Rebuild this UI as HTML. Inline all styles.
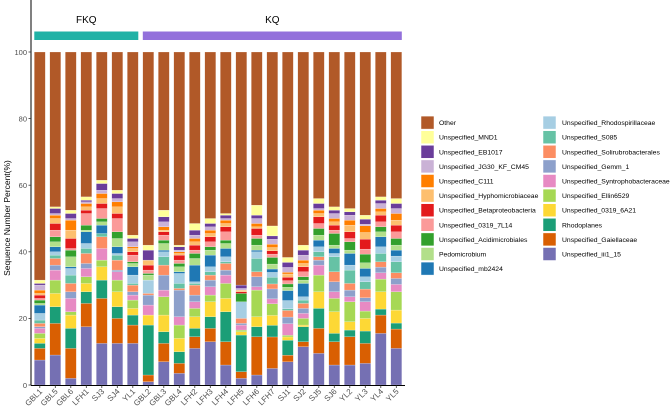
<!DOCTYPE html>
<html><head><meta charset="utf-8"><style>
html,body{margin:0;padding:0;background:#fff;}
svg text{font-family:"Liberation Sans",sans-serif;}
</style></head><body>
<svg id="chart" width="671" height="412" viewBox="0 0 671 412" xmlns="http://www.w3.org/2000/svg">
<g id="bars"></g>
<g id="axes"></g>
<g id="legend"></g>
</svg>
<script>
const samples = ["GBL1","GBL5","GBL6","LFH1","SJ3","SJ4","YL1","GBL2","GBL3","GBL4","LFH2","LFH3","LFH4","LFH5","LFH6","LFH7","SJ1","SJ2","SJ5","SJ6","YL2","YL3","YL4","YL5"];
// stacking order bottom -> top
const taxa = ["Unspecified_iii1_15","Unspecified_Gaiellaceae","Rhodoplanes","Unspecified_0319_6A21","Unspecified_Ellin6529","Unspecified_Syntrophobacteraceae","Unspecified_Gemm_1","Unspecified_Solirubrobacterales","Unspecified_S085","Unspecified_Rhodospirillaceae","Unspecified_mb2424","Pedomicrobium","Unspecified_Acidimicrobiales","Unspecified_0319_7L14","Unspecified_Betaproteobacteria","Unspecified_Hyphomicrobiaceae","Unspecified_C111","Unspecified_JG30_KF_CM45","Unspecified_EB1017","Unspecified_MND1","Other"];
const colors = ["#7570b3","#d95f02","#1b9e77","#fdd835","#a6d854","#e78ac3","#8da0cb","#fc8d62","#66c2a5","#a6cee3","#1f78b4","#b2df8a","#33a02c","#fb9a99","#e31a1c","#fdbf6f","#ff7f00","#cab2d6","#6a3d9a","#ffff99","#b15928"];
const vGBL1 = [7.5,3.5,1.5,1.5,1.5,1.5,0.5,1,1,2,2.5,0.5,1,0.5,1,0.5,1,1.5,0.5,1,68.5];
const vGBL5 = [9,9.5,5,4,4,3,1.5,2,1,1,1.5,1.5,1.5,2,2,1.5,1,0.5,1.5,0.5,46.5];
const vGBL6 = [2,9,6,4,1,4,2,2.5,2.5,2,0.5,3,2,0.5,3,2.5,3,0.5,1.5,1,47.5];
const vLFH1 = [17.5,7,3.5,2.5,2,2.5,1.5,3,1.5,1.5,3.5,0.5,1.5,3.5,1,1,1,0.5,0.5,1,43.5];
const vSJ3 = [12.5,13.5,5.5,4,2,3.5,0,3.5,1,0,2.5,1,1,3,1.5,1.5,1.5,1,2,1,38.5];
const vSJ4 = [12.5,7.5,3.5,4.5,3.5,2.5,0.5,3,1.5,0.5,2,2.5,2,4,1.5,2,1.5,1,1.5,1,41.5];
const vYL1 = [12.5,5.5,3,2,2.5,1.5,1,2,0.5,2.5,2.5,1,0.5,2,1,1,0.5,1.5,1,1,55];
const vGBL2 = [1,2,15,3,0,3,3,0.5,0,4,0,1.5,0.5,1,1.5,1.5,0,0,3,1.5,58];
const vGBL3 = [7,5.5,3.5,5,5.5,2,4.5,3,2.5,1.5,0.5,2,1,1.5,1,0.5,1,1.5,1.5,2,47.5];
const vGBL4 = [3.5,3,3.5,4,4,2.5,8,0.5,1.5,3,0.5,1.5,1,1,1.5,0.5,0.5,0.5,1,0.5,58];
const vLFH2 = [11,3.5,2.5,3.5,2.5,2,2,3,0.5,0.5,5,2,1.5,1,1.5,1,1,1,1.5,2,51.5];
const vLFH3 = [13,4,3.5,4.5,2,2.5,2,1.5,1,1.5,3.5,1.5,1,1.5,1.5,1,1,1,1,1.5,50];
const vLFH4 = [6,7,9,4,4.5,2.5,1.5,2,0.5,1.5,2.5,1.5,1,2.5,1.5,1,1,0.5,1,0.5,48.5];
const vLFH5 = [2,2,11,1,0.5,1.5,0.5,1.5,0,5,0,0,2.5,0,0.5,0.5,0,0.5,1,0,70];
const vLFH6 = [3,11.5,3,3,8,1,3,1.5,4,2,0.5,1.5,2,1,2,0.5,1,1.5,1,3,46];
const vLFH7 = [5,9.5,3.5,3,3.5,1.5,3,1.5,2,1.5,1,1.5,2,1,1,1,1,1.5,1,3,52.5];
const vSJ1 = [7,2,4.5,1,0.5,3.5,2,2,0.5,2.5,3,1,1,1,1,1,0.5,1.5,1.5,1.5,62];
const vSJ2 = [11.5,1.5,4.5,0.5,2,1.5,1.5,1.5,1,1,4,1,1,1.5,1.5,1,1,1.5,1.5,1.5,58];
const vSJ5 = [9.5,7.5,6,5,5,3,1.5,1,1.5,1.5,2,1.5,2,1.5,2,1,1,0.5,1.5,1.5,44];
const vSJ6 = [6,7,2.5,6.5,4,2,3,3,4.5,1,1.5,1,3.5,1,1.5,1,1,1.5,1,1,46.5];
const vYL2 = [6,8.5,2,2.5,6,1.5,2,2,4,1.5,3.5,1,2.5,1,2,2,1.5,1.5,1,1,47];
const vYL3 = [6.5,6,3.7,3.8,2.2,2.8,1.2,2.6,2.2,1.5,2.5,1.7,2.6,1.5,3,2,2,0.5,1.5,1.2,49];
const vYL4 = [15.5,5.5,1.8,5.2,3.8,1.9,1.7,1.6,2.5,2,3,1.5,1.5,1.5,2,1,1,1.5,1,1,43.5];
const vYL5 = [11,5.8,1.8,3.9,5.5,2.2,1.8,1.7,3.3,1.7,1.8,1.5,2,2,2,1.5,2,1.5,1.5,1.5,44];
const sampleValues = [vGBL1,vGBL5,vGBL6,vLFH1,vSJ3,vSJ4,vYL1,vGBL2,vGBL3,vGBL4,vLFH2,vLFH3,vLFH4,vLFH5,vLFH6,vLFH7,vSJ1,vSJ2,vSJ5,vSJ6,vYL2,vYL3,vYL4,vYL5];
const yTicks = [0,20,40,60,80,100];
const groups = ["FKQ","KQ"];
const groupSizes = [7,17];
const groupColors = ["#20b2a6","#9370db"];
const legendCol1 = ["Other","Unspecified_MND1","Unspecified_EB1017","Unspecified_JG30_KF_CM45","Unspecified_C111","Unspecified_Hyphomicrobiaceae","Unspecified_Betaproteobacteria","Unspecified_0319_7L14","Unspecified_Acidimicrobiales","Pedomicrobium","Unspecified_mb2424"];
const legendCol2 = ["Unspecified_Rhodospirillaceae","Unspecified_S085","Unspecified_Solirubrobacterales","Unspecified_Gemm_1","Unspecified_Syntrophobacteraceae","Unspecified_Ellin6529","Unspecified_0319_6A21","Rhodoplanes","Unspecified_Gaiellaceae","Unspecified_iii1_15"];

const NS="http://www.w3.org/2000/svg";
function mk(tag,attrs,parent){const e=document.createElementNS(NS,tag);for(const k in attrs)e.setAttribute(k,attrs[k]);parent.appendChild(e);return e;}
const y0=385, y100=52;
const yScale=v=>y0-(y0-y100)*v/100;
const x0=39.8, step=15.5, bw=11;
const xScale=i=>x0+step*i;
const barsG=document.getElementById('bars'), axesG=document.getElementById('axes'), legG=document.getElementById('legend');

sampleValues.forEach((vals,i)=>{
  const total=vals.reduce((a,b)=>a+b,0);
  let cum=0;
  vals.forEach((raw,k)=>{
    const v=raw*100/total;
    if(v<=0){return;}
    const r=mk('rect',{x:xScale(i)-bw/2,y:yScale(cum+v),width:bw,height:yScale(cum)-yScale(cum+v),fill:colors[k],stroke:"#ffffff","stroke-width":0.35,"stroke-opacity":0.6},barsG);
    
    
    cum+=v;
  });
});

const ya=mk('line',{x1:31,y1:0,x2:31,y2:385.5,stroke:"#000","stroke-width":1},axesG);


const xa=mk('line',{x1:31,y1:385.5,x2:405,y2:385.5,stroke:"#000","stroke-width":1},axesG);


yTicks.forEach(t=>{
  const tk=mk('line',{x1:28.5,x2:31,y1:yScale(t),y2:yScale(t),stroke:"#333","stroke-width":0.8},axesG);
  
  
  const tx=mk('text',{x:27,y:yScale(t)+2.8,"font-size":7.5,fill:"#4d4d4d","text-anchor":"end"},axesG);
  tx.textContent=t;
  
  
});
samples.forEach((s,i)=>{
  const tk=mk('line',{x1:xScale(i),x2:xScale(i),y1:385.5,y2:388,stroke:"#333","stroke-width":0.8},axesG);
  
  
  const tx=mk('text',{x:xScale(i)+3,y:392,"font-size":8,fill:"#4d4d4d","text-anchor":"end",transform:`rotate(-45 ${xScale(i)+3} 392)`},axesG);
  tx.textContent=s;
  
  
});
const yt=mk('text',{x:10,y:218,"font-size":8.5,fill:"#000","text-anchor":"middle",transform:"rotate(-90 10 218)"},axesG);
yt.textContent="Sequence Number Percent(%)";



let start=0;
groups.forEach((g,gi)=>{
  const xl=xScale(start)-bw/2, xr=xScale(start+groupSizes[gi]-1)+bw/2;
  const r=mk('rect',{x:xl,y:31.5,width:xr-xl,height:8.5,fill:groupColors[gi]},axesG);
  
  
  const t=mk('text',{x:(xl+xr)/2,y:23,"font-size":10,fill:"#000","text-anchor":"middle"},axesG);
  t.textContent=g;
  
  
  start+=groupSizes[gi];
});

const rowY0=122.6, rowStep=14.6;
function legendCol(list,kx,tx){
  list.forEach((name,j)=>{
    const k=taxa.indexOf(name);
    const cy=rowY0+rowStep*j;
    const g=mk('g',{},legG);
    
    
    mk('rect',{x:kx,y:cy-6.5,width:13,height:13,fill:colors[k],stroke:"#fff","stroke-width":0.5},g);
    const t=mk('text',{x:tx,y:cy+2.5,"font-size":6.8,fill:"#000"},g);
    t.textContent=name;
  });
}
legendCol(legendCol1,421,439);
legendCol(legendCol2,543,562);
</script>
</body></html>
